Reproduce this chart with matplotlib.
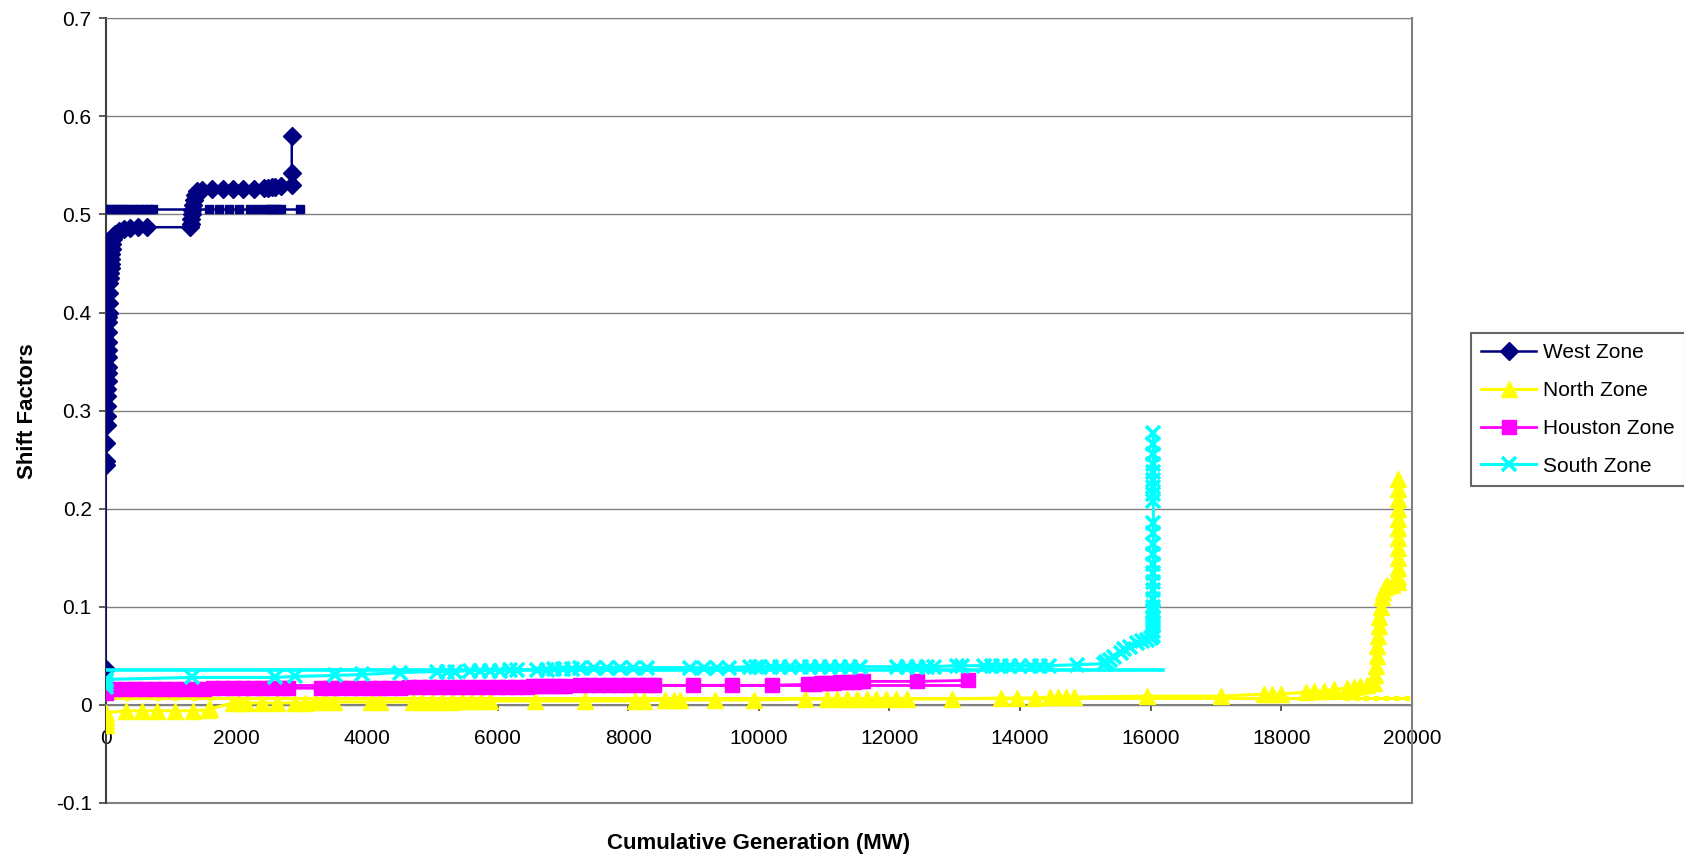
import matplotlib
matplotlib.use('Agg')
import matplotlib.pyplot as plt

plt.rcParams['font.family'] = ['Liberation Sans', 'DejaVu Sans']

# ---- data ----
series_names = ['West Zone', 'North Zone', 'Houston Zone', 'South Zone']

west_x = [0, 0, 0, 10, 15, 20, 20, 25, 25, 30, 30, 30, 35, 35, 35, 40, 40, 40, 45, 45, 45, 50,
          60, 70, 80, 80, 90, 90, 100, 100, 110, 120, 150,
          200, 280, 380, 500, 640,
          1290, 1300, 1310, 1320, 1330, 1340, 1350, 1370, 1400,
          1470, 1630, 1790, 1950, 2110, 2270,
          2420, 2480, 2540, 2600, 2680,
          2850, 2850, 2850]
west_y = [0.037, 0.245, 0.249, 0.267, 0.285, 0.295, 0.305, 0.315, 0.322, 0.33, 0.338, 0.345,
          0.355, 0.362, 0.37, 0.38, 0.39, 0.395, 0.40, 0.41, 0.42, 0.43,
          0.435, 0.44, 0.445, 0.45, 0.455, 0.46, 0.465, 0.47, 0.475, 0.478, 0.48,
          0.483, 0.485, 0.486, 0.487, 0.487,
          0.487, 0.49, 0.495, 0.50, 0.505, 0.51, 0.515, 0.52, 0.524,
          0.525, 0.526, 0.526, 0.526, 0.526, 0.526,
          0.527, 0.527, 0.528, 0.528, 0.529,
          0.53, 0.542, 0.58]
west_flat_x = [0, 70, 140, 210, 280, 350, 430, 510, 590, 670, 730, 1300, 1330, 1360, 1390,
               1580, 1740, 1890, 2050, 2210, 2340, 2450, 2510, 2570, 2630, 2690, 2970]
west_flat_y = [0.506, 0.506, 0.506, 0.506, 0.506, 0.506, 0.506, 0.506, 0.506, 0.506, 0.506,
               0.506, 0.506, 0.506, 0.506, 0.506, 0.506, 0.506, 0.506, 0.506, 0.506, 0.506,
               0.506, 0.506, 0.506, 0.506, 0.506]

north_x = [0, 0, 0, 0, 320, 550, 780, 1060, 1340, 1570, 1600,
           1950, 2050, 2150, 2400, 2630, 2900, 3050, 3200, 3350, 3500, 4060,
           4200, 4710, 4850, 5000, 5150, 5300, 5450, 5600, 5750, 5890, 6580, 7340, 8110, 8250,
           8570, 8700, 8800, 9330, 9920, 10710,
           11040, 11200, 11350, 11500, 11650, 11800, 11950, 12100, 12270, 12960,
           13700, 13950, 14230, 14460, 14580, 14700, 14820, 15940, 17070,
           17740, 17850, 17990, 18370, 18500, 18650, 18800, 19010, 19110, 19210, 19310,
           19420, 19440, 19450, 19460, 19470, 19480, 19490, 19500, 19520, 19540, 19560, 19580,
           19620, 19700,
           19790, 19790, 19790, 19790, 19790, 19790, 19790, 19790, 19790, 19790, 19790, 19790]
north_y = [-0.020, -0.016, -0.012, -0.008, -0.006, -0.006, -0.006, -0.006, -0.006, -0.005, -0.004,
           0.002, 0.002, 0.002, 0.002, 0.002, 0.002, 0.002, 0.003, 0.003, 0.003, 0.003,
           0.003, 0.003, 0.003, 0.003, 0.003, 0.003, 0.004, 0.004, 0.004, 0.004, 0.004, 0.004, 0.004, 0.004,
           0.005, 0.005, 0.005, 0.005, 0.005, 0.006,
           0.006, 0.006, 0.006, 0.006, 0.006, 0.006, 0.006, 0.006, 0.006, 0.006,
           0.007, 0.007, 0.007, 0.008, 0.008, 0.008, 0.008, 0.009, 0.009,
           0.011, 0.011, 0.011, 0.013, 0.014, 0.014, 0.016, 0.017, 0.018, 0.019, 0.020,
           0.022, 0.03, 0.04, 0.05, 0.06, 0.07, 0.08, 0.09, 0.10, 0.11, 0.115, 0.12,
           0.122, 0.122,
           0.125, 0.13, 0.14, 0.15, 0.16, 0.17, 0.18, 0.19, 0.20, 0.21, 0.22, 0.23]
north_flat_x = [0, 330, 810, 1060, 1350, 1600, 19000, 19150, 19300, 19450, 19600, 19750, 19920]
north_flat_y = [0.007, 0.007, 0.007, 0.007, 0.007, 0.007, 0.007, 0.007, 0.007, 0.007, 0.007,
                0.007, 0.007]

houston_x = [0, 0, 0, 150, 300, 450, 600, 750, 900, 1050, 1200, 1350, 1500, 1650, 1800, 1950,
             2100, 2250, 2400, 2550, 2700, 2800,
             3300, 3450, 3600, 3750, 3900, 4050, 4200, 4350, 4500, 4650, 4800, 4950, 5100,
             5250, 5400, 5550, 5700, 5850, 6000, 6150, 6300, 6450,
             6550, 6650, 6750, 6850, 6950, 7040,
             7270, 7400, 7550, 7700, 7850, 8000, 8150, 8300, 8390,
             9000, 9590, 10200,
             10760, 10850, 10950, 11050, 11150, 11250, 11350, 11450, 11550, 11600,
             12420, 13200]
houston_y = [0.012, 0.015, 0.017, 0.016, 0.016, 0.016, 0.016, 0.016, 0.016, 0.016, 0.016,
             0.016, 0.016, 0.017, 0.017, 0.017, 0.017, 0.017, 0.017, 0.017, 0.017, 0.017,
             0.017, 0.017, 0.017, 0.017, 0.017, 0.017, 0.017, 0.017, 0.017, 0.018, 0.018,
             0.018, 0.018, 0.018, 0.018, 0.018, 0.018, 0.018, 0.018, 0.018, 0.018, 0.018,
             0.019, 0.019, 0.019, 0.019, 0.019, 0.019,
             0.020, 0.020, 0.020, 0.020, 0.020, 0.020, 0.020, 0.020, 0.020,
             0.020, 0.020, 0.020,
             0.021, 0.021, 0.022, 0.022, 0.022, 0.023, 0.023, 0.023, 0.024, 0.024,
             0.024, 0.025]
houston_flat_x = [0, 13250]
houston_flat_y = [0.020, 0.020]

south_x = [0, 0, 0, 0, 1320, 2600, 2900, 3510, 3920, 4510, 5070, 5220, 5350, 5580, 5730, 5890,
           6040, 6190, 6300, 6600, 6760, 6860, 7010, 7140, 7270, 7470, 7680, 7880, 8080, 8290,
           8950, 9160, 9360, 9540,
           9870, 9950, 10020, 10180, 10330, 10480, 10640, 10790, 10940, 11090, 11250, 11400, 11550,
           12120, 12270, 12420, 12580, 12680, 13040, 13110,
           13440, 13570, 13700, 13850, 14000, 14160, 14310, 14440, 14870, 15280,
           15310, 15380, 15430, 15540, 15590, 15690, 15790, 15870, 15950, 16000,
           16040, 16040, 16040, 16040, 16040, 16040, 16040, 16040, 16040, 16040, 16040, 16040,
           16040, 16040, 16040, 16040, 16040, 16040, 16040, 16040, 16040, 16040, 16040, 16040, 16040]
south_y = [0.018, 0.021, 0.024, 0.026, 0.028, 0.028, 0.029, 0.030, 0.031, 0.033, 0.034, 0.034,
           0.034, 0.035, 0.035, 0.035, 0.035, 0.036, 0.036, 0.036, 0.036, 0.037, 0.037, 0.037,
           0.038, 0.038, 0.038, 0.038, 0.038, 0.038,
           0.038, 0.038, 0.038, 0.038,
           0.039, 0.039, 0.039, 0.039, 0.039, 0.039, 0.039, 0.039, 0.039, 0.039, 0.039, 0.039, 0.039,
           0.039, 0.039, 0.039, 0.039, 0.039, 0.040, 0.040,
           0.040, 0.040, 0.040, 0.040, 0.040, 0.040, 0.040, 0.040, 0.041, 0.042,
           0.044, 0.046, 0.049, 0.053, 0.057, 0.059, 0.063, 0.065, 0.066, 0.068,
           0.07, 0.075, 0.08, 0.085, 0.09, 0.095, 0.10, 0.108, 0.117, 0.125, 0.134, 0.144,
           0.154, 0.164, 0.175, 0.185, 0.208, 0.215, 0.222, 0.229, 0.237, 0.246, 0.256, 0.266, 0.277]
south_flat_x = [0, 16190]
south_flat_y = [0.036, 0.036]

x_ticks = [0, 2000, 4000, 6000, 8000, 10000, 12000, 14000, 16000, 18000, 20000]
x_tick_labels = ['0', '2000', '4000', '6000', '8000', '10000', '12000', '14000', '16000',
                 '18000', '20000']
y_ticks = [-0.1, 0, 0.1, 0.2, 0.3, 0.4, 0.5, 0.6, 0.7]
y_tick_labels = ['-0.1', '0', '0.1', '0.2', '0.3', '0.4', '0.5', '0.6', '0.7']

NAVY = '#000080'
YELLOW = '#FFFF00'
MAGENTA = '#FF00FF'
CYAN = '#00FFFF'

fig = plt.figure(figsize=(16.84, 8.59), dpi=100)
ax = fig.add_axes([0.0627, 0.0652, 0.7758, 0.9135])

h_west, = ax.plot(west_x, west_y, color=NAVY, lw=1.8, marker='D', ms=9.5,
                  label=series_names[0], zorder=3)
ax.plot(west_flat_x, west_flat_y, color=NAVY, lw=1.8, marker='s', ms=5.5, zorder=3)

h_north, = ax.plot(north_x, north_y, color=YELLOW, lw=2.2, marker='^', ms=11,
                   label=series_names[1], zorder=4)
ax.plot(north_flat_x, north_flat_y, color=YELLOW, lw=2.2, marker='s', ms=3.5, zorder=4)

h_houston, = ax.plot(houston_x, houston_y, color=MAGENTA, lw=2, marker='s', ms=10.5,
                     label=series_names[2], zorder=5)
ax.plot(houston_flat_x, houston_flat_y, color=MAGENTA, lw=2, zorder=5)

h_south, = ax.plot(south_x, south_y, color=CYAN, lw=2.2, marker='x', ms=10, mew=2.6,
                   label=series_names[3], zorder=6)
ax.plot(south_flat_x, south_flat_y, color=CYAN, lw=2.6, zorder=6)

ax.set_xlim(0, 20000)
ax.set_ylim(-0.1, 0.7)
ax.set_xticks(x_ticks)
ax.set_xticklabels(x_tick_labels)
ax.set_yticks(y_ticks)
ax.set_yticklabels(y_tick_labels)

ax.grid(axis='y', color='#808080', lw=1.0, zorder=0)
ax.set_axisbelow(True)
# plot-area border along the bottom (the x axis itself sits at zero)
ax.axhline(-0.1, color='#808080', lw=1.5, clip_on=False, zorder=1)

ax.spines['bottom'].set_position(('data', 0))
ax.spines['bottom'].set_color('#808080')
ax.spines['bottom'].set_linewidth(1.5)
ax.spines['left'].set_color('#404040')
ax.spines['left'].set_linewidth(1.5)
ax.spines['top'].set_color('#808080')
ax.spines['right'].set_color('#808080')
ax.spines['right'].set_linewidth(1.5)

ax.tick_params(axis='x', direction='out', length=4, width=1.2, color='#404040',
               pad=13, labelsize=15)
ax.tick_params(axis='y', direction='out', length=5, width=1.2, color='#404040',
               pad=5, labelsize=15)

fig.text(0.0163, 0.5216, 'Shift Factors', rotation=90, ha='center', va='center',
         fontsize=16, fontweight='bold')
fig.text(0.4505, 0.0186, 'Cumulative Generation (MW)', ha='center', va='center',
         fontsize=16, fontweight='bold')

leg = fig.legend(handles=[h_west, h_north, h_houston, h_south],
                 loc='upper left', bbox_to_anchor=(1471 / 1684, 1 - 333 / 859),
                 frameon=True, fancybox=False, fontsize=15, handlelength=2.6,
                 handletextpad=0.35, labelspacing=0.9, borderpad=0.5,
                 borderaxespad=0)
leg.get_frame().set_edgecolor('#404040')
leg.get_frame().set_linewidth(1.5)

fig.savefig('out.png', dpi=100, facecolor='white')
